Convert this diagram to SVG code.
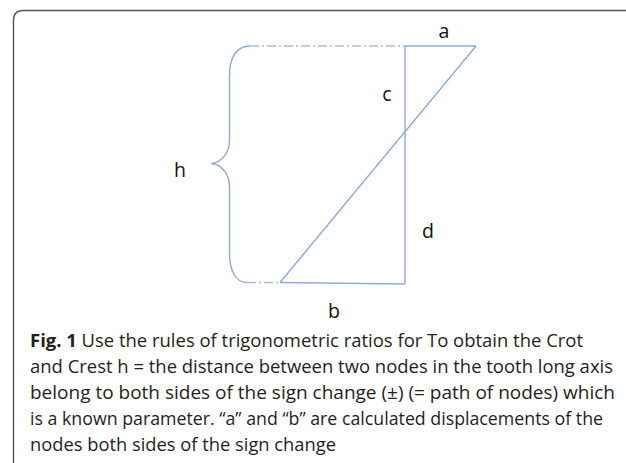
<svg xmlns="http://www.w3.org/2000/svg" width="626" height="463" viewBox="0 0 626 463">
  <style>
    .frame { fill: none; stroke: #555555; stroke-width: 1.4; }
    .ln { fill: none; stroke: #8eaadb; stroke-width: 1.4; }
    .dash { fill: none; stroke: #a9bde3; stroke-width: 1.3; stroke-dasharray: 9 3 2 3; }
    .lbl { font-family: "Open Sans", "Liberation Sans", sans-serif; font-size: 19.5px; fill: #111111; text-anchor: middle; }
    .cap { font-family: "Open Sans", "Liberation Sans", sans-serif; font-size: 18.5px; fill: #231f20; }
    .bold { font-weight: bold; }
  </style>
  <rect width="626" height="463" fill="#ffffff"/>
  <path class="frame" d="M13.5,463 V20 Q13.5,10.5 23,10.5 H626"/>

  <g id="connectors">
    <line class="dash" x1="250" y1="46" x2="405" y2="46"/>
    <line class="dash" x1="247" y1="282.5" x2="280" y2="282.5"/>
    <line class="ln" x1="405" y1="46" x2="476" y2="46"/>
    <line class="ln" x1="405" y1="46" x2="405" y2="284"/>
    <line class="ln" x1="476" y1="46" x2="280" y2="282.5"/>
    <line class="ln" x1="280" y1="282.5" x2="405" y2="284"/>
  </g>

  <g id="brace">
    <path class="ln" d="M250,46 C236,46 229.5,58 229.5,76 V140 C229.5,153 222,162 211.5,163.5 C222,165 229.5,174 229.5,187 V253 C229.5,271 236,282.5 247,282.5"/>
  </g>

  <g id="label-a"><text class="lbl" x="444" y="38">a</text></g>
  <g id="label-c"><text class="lbl" x="387" y="101">c</text></g>
  <g id="label-h"><text class="lbl" x="180" y="177">h</text></g>
  <g id="label-d"><text class="lbl" x="428" y="238">d</text></g>
  <g id="label-b"><text class="lbl" x="334" y="318">b</text></g>

  <g id="caption">
    <text class="cap" x="30" y="347" textLength="553" lengthAdjust="spacingAndGlyphs"><tspan class="bold">Fig. 1</tspan>  Use the rules of trigonometric ratios for To obtain the Crot</text>
    <text class="cap" x="30" y="373" textLength="583" lengthAdjust="spacingAndGlyphs">and Crest h = the distance between two nodes in the tooth long axis</text>
    <text class="cap" x="30" y="399" textLength="585" lengthAdjust="spacingAndGlyphs">belong to both sides of the sign change (±) (= path of nodes) which</text>
    <text class="cap" x="30" y="425" textLength="573" lengthAdjust="spacingAndGlyphs">is a known parameter. “a” and “b” are calculated displacements of the</text>
    <text class="cap" x="30" y="451" textLength="306" lengthAdjust="spacingAndGlyphs">nodes both sides of the sign change</text>
  </g>
</svg>
